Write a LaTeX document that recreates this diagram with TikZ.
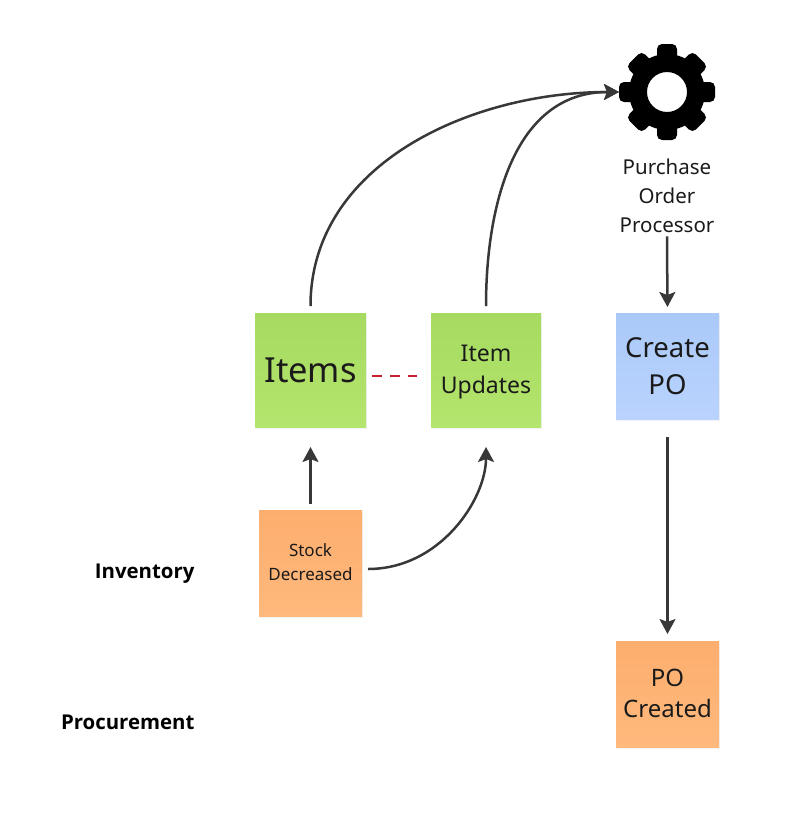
\documentclass[tikz,border=0pt]{standalone}
\usepackage{fontspec}
\setmainfont{Noto Sans}
\newfontfamily\lanefont{Open Sans}
\usepackage{tikz}
\usetikzlibrary{shadows,arrows.meta}

\definecolor{greentop}{HTML}{A6DA60}
\definecolor{greenbot}{HTML}{B4E56E}
\definecolor{orangetop}{HTML}{FCAE6E}
\definecolor{orangebot}{HTML}{FFB97C}
\definecolor{bluetop}{HTML}{AAC9F8}
\definecolor{bluebot}{HTML}{BAD3FE}
\definecolor{arrowgray}{HTML}{383838}
\definecolor{inkblack}{HTML}{1A1A1A}
\definecolor{dashred}{HTML}{C8202F}
\newcommand{\lowertxt}[2]{\raisebox{-#1}[\height][\depth]{#2}}

\begin{document}
\begin{tikzpicture}[x=1pt,y=-1pt]
    \tikzset{pname/.style={rectangle,align=center,inner sep=0pt,outer sep=0pt,text=inkblack,
        drop shadow={shadow xshift=1pt,shadow yshift=-2pt,opacity=0.10}}}
    \tikzset{greenbox/.style={pname,top color=greentop,bottom color=greenbot}}
    \tikzset{orangebox/.style={pname,top color=orangetop,bottom color=orangebot}}
    \tikzset{bluebox/.style={pname,top color=bluetop,bottom color=bluebot}}
    \tikzset{lane/.style={anchor=east,text=black,font=\lanefont\fontsize{20.4}{24}\selectfont\bfseries}}
    \tikzstyle{fleche}=[-{Stealth[length=15pt,width=16pt,inset=3pt]},line width=2.5pt,color=arrowgray]
    \useasboundingbox (0,0) rectangle (800,822);

    \node[greenbox,minimum width=111pt,minimum height=114pt,font=\fontsize{34.5}{44}\selectfont] (ITEMS) at (310.5,370) {Items};
    \node[greenbox,minimum width=110pt,minimum height=114pt,font=\fontsize{23}{32}\selectfont] (UPD) at (486,370) {\lowertxt{2pt}{Item}\\\lowertxt{2pt}{Updates}};
    \node[bluebox,minimum width=103pt,minimum height=106pt,font=\fontsize{27.5}{37}\selectfont] (CREATE) at (667.5,366) {Create\\PO};
    \node[orangebox,minimum width=103pt,minimum height=106pt,font=\fontsize{17}{24}\selectfont] (STOCK) at (310.5,563) {\lowertxt{-1pt}{Stock}\\\lowertxt{-1pt}{Decreased}};
    \node[orangebox,minimum width=103pt,minimum height=106pt,font=\fontsize{24}{31}\selectfont] (POC) at (667.5,694) {\lowertxt{-1pt}{PO}\\\lowertxt{-1pt}{Created}};

    % gear
    \node[circle,minimum size=96pt,inner sep=0pt,outer sep=0pt] (GEAR) at (667,92) {};
    \foreach \ang in {0,90,180,270}
        \fill[black,shift={(667,92)},rotate=\ang,rounded corners=5pt] (-10,-48) rectangle (10,-28);
    \foreach \ang in {45,135,225,315}
        \fill[black,shift={(667,92)},rotate=\ang,rounded corners=5pt] (-11,-47) rectangle (11,-27);
    \fill[black,even odd rule] (GEAR.center) circle[radius=38] circle[radius=20];

    \node[align=center,text=inkblack,font=\fontsize{20.5}{29}\selectfont] (PROC) at (667,196) {Purchase\\Order\\Processor};
    \node[lane] (INV) at (198,574) {Inventory};
    \node[lane] (PROCUR) at (198,722) {Procurement};

    \draw[fleche,shorten <=7pt] (ITEMS.north) to[out=90,in=180,looseness=1.0] (GEAR.west);
    \draw[fleche,shorten <=7pt] (UPD.north) to[out=90,in=180,looseness=1.05] (GEAR.west);
    \draw[fleche,shorten >=6pt] (PROC.south) -- (CREATE.north);
    \draw[fleche,shorten <=18pt,shorten >=7pt] (CREATE.south) -- (POC.north);
    \draw[fleche,shorten <=6pt,shorten >=20pt] (STOCK.north) -- (ITEMS.south);
    \draw[fleche,shorten >=20pt] ([xshift=6pt,yshift=-6pt]STOCK.east) to[out=0,in=270,looseness=1.0] (UPD.south);
    \draw[dashed,dash pattern=on 10pt off 8pt,color=dashred,line width=2.4pt] ([xshift=6pt,yshift=-6pt]ITEMS.east)--([xshift=-14pt,yshift=-6pt]UPD.west);
\end{tikzpicture}
\end{document}
